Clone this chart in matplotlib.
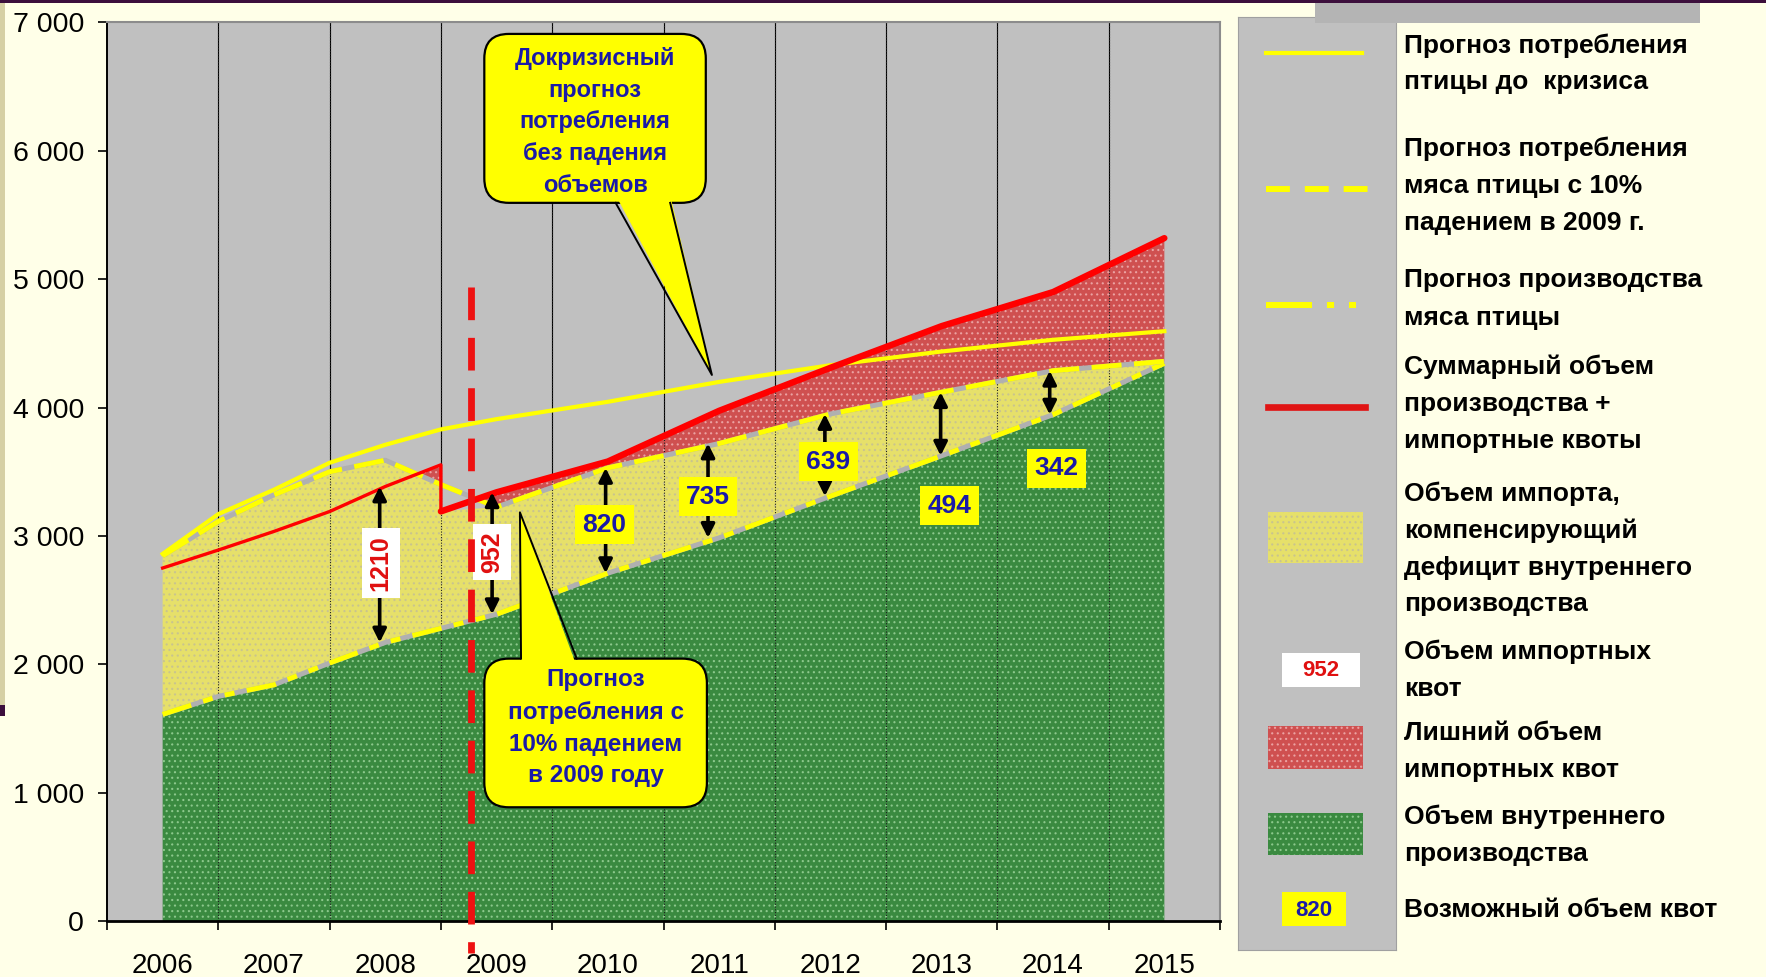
import numpy as np
import matplotlib.pyplot as plt
from matplotlib.patches import FancyBboxPatch, Polygon, Rectangle
from matplotlib.lines import Line2D

plt.rcParams['font.family'] = ['Liberation Sans', 'DejaVu Sans']
plt.rcParams['hatch.linewidth'] = 0.8

# data (thousand tonnes), half-year points where the curves bend
years = list(range(2006, 2016))
x_pts = [2006, 2006.5, 2007, 2007.5, 2008, 2008.5, 2008.5, 2009, 2010, 2011, 2012, 2013, 2014, 2015]
production = [1610, 1750, 1840, 2010, 2170, 2280, 2280, 2390, 2710, 2985, 3310, 3625, 3945, 4345]
consumption_drop = [2845, 3113, 3320, 3500, 3590, 3400, 3400, 3225, 3530, 3720, 3950, 4120, 4287, 4360]
consumption_pre = [2860, 3170, 3360, 3570, 3710, 3830, 3830, 3910, 4045, 4200, 4330, 4437, 4528, 4595]
supply_total = [2750, 2890, 3035, 3190, 3385, 3554, 3191, 3340, 3580, 3975, 4310, 4635, 4900, 5320]

quota_years = [2008, 2009, 2010, 2011, 2012, 2013, 2014]
quota_values = [1210, 952, 820, 735, 639, 494, 342]
quota_actual = [True, True, False, False, False, False, False]   # white/red boxes = real quotas

# label / arrow placement
quota_label_y = [2790, 2877, 3088, 3307, 3579, 3237, 3526]
quota_label_dx = [-0.04, -0.04, -0.03, -0.1, -0.02, 0.07, 0.03]
arrow_dx = [-0.05, -0.04, -0.02, -0.1, -0.05, -0.01, -0.03]
crisis_x = 2008.77

x = np.array(x_pts)
prod = np.array(production)
drop = np.array(consumption_drop)
pre = np.array(consumption_pre)
tot = np.array(supply_total)

YEL = '#FFFF00'
GRAY = '#C0C0C0'
BLUE = '#1A1AA8'

fig = plt.figure(figsize=(17.66, 9.77), dpi=100, facecolor='#FFFFE8')
W, H = 1766, 977

# page decorations
fig.add_artist(Rectangle((0, 1 - 3 / H), 1, 3 / H, transform=fig.transFigure, color='#3C0F3C', lw=0))
fig.add_artist(Rectangle((1315 / W, 1 - 23 / H), 385 / W, 20 / H, transform=fig.transFigure, color='#B4B4B4', lw=0))
fig.add_artist(Rectangle((0, 1 - 705 / H), 5 / W, 702 / H, transform=fig.transFigure, color='#D6D0A4', lw=0))
fig.add_artist(Rectangle((0, 1 - 716 / H), 5 / W, 11 / H, transform=fig.transFigure, color='#3C0F3C', lw=0))

ax = fig.add_axes([107 / W, 1 - 921 / H, 1113 / W, 898.5 / H])
ax.set_facecolor(GRAY)
ax.set_xlim(2005.5, 2015.5)
ax.set_ylim(0, 7000)

# fills
ax.fill_between(x, 0, prod, facecolor='#3A8A40', edgecolor='#8CC88C', hatch='...', lw=0, zorder=1)
after_drop = np.arange(len(x)) > 5
yel_top = np.where(after_drop, np.minimum(drop, tot), drop)
ax.fill_between(x, prod, yel_top, facecolor='#E6E06A', edgecolor='#C9C48E', hatch='...', lw=0, zorder=1)
ax.fill_between(x, drop, tot, where=tot > drop, interpolate=True,
                facecolor='#CF5050', edgecolor='#EBA2A2', hatch='...', lw=0, zorder=1)

# category grid lines: solid on gray, dotted over fills
for b in np.arange(2006.5, 2015, 1.0):
    ax.axvline(b, color='black', lw=0.8, zorder=0.5)
    ax.axvline(b, color='#1E1E1E', lw=0.8, ls=(0, (1, 1.5)), zorder=2)

# lines
ax.plot(x, prod, color='#B0B0B0', lw=3.6, zorder=3, solid_capstyle='butt')
ax.plot(x, prod, color=YEL, lw=3.6, ls=(0, (6, 2.5, 2, 2.5, 2, 2.5)), zorder=3.1)
ax.plot(x, drop, color='#B0B0B0', lw=3.6, zorder=3.2, solid_capstyle='butt')
ax.plot(x, drop, color=YEL, lw=3.6, ls=(0, (6, 2.5)), zorder=3.3)
ax.plot(x, pre, color=YEL, lw=3, zorder=3.4)
ax.plot(x[:7], tot[:7], color='#FF0000', lw=2.4, zorder=3.5)
ax.plot(x[6:], tot[6:], color='#FF0000', lw=4.6, zorder=3.5, solid_capstyle='round')

# quota arrows and labels
for i, (yr, val) in enumerate(zip(quota_years, quota_values)):
    k = x_pts.index(yr) if yr != 2009 else 7
    top = tot[k] if quota_actual[i] else drop[k]
    ax.annotate('', xy=(yr + arrow_dx[i], top), xytext=(yr + arrow_dx[i], prod[k]),
                arrowprops=dict(arrowstyle='<|-|>', color='black', lw=2.6,
                                mutation_scale=20, shrinkA=0, shrinkB=0), zorder=4)
    if quota_actual[i]:
        ax.text(yr + quota_label_dx[i], quota_label_y[i], str(val), rotation=90,
                ha='center', va='center', color='#E01010', fontsize=18, fontweight='bold', zorder=5,
                bbox=dict(boxstyle='square,pad=0.28', fc='white', ec='none'))
    else:
        ax.text(yr + quota_label_dx[i], quota_label_y[i], str(val),
                ha='center', va='center', color=BLUE, fontsize=19, fontweight='bold', zorder=5,
                bbox=dict(boxstyle='square,pad=0.28', fc=YEL, ec='none'))

# crisis marker
ax.plot([crisis_x, crisis_x], [4940, -250], color='#EE1111', lw=4.9,
        ls=(0, (4.8, 2.6)), zorder=6, clip_on=False)


def callout(x0, x1, y0, y1, bx0, bx1, tip, base_y, lines, cy, fs):
    box = FancyBboxPatch((x0, y0), x1 - x0, y1 - y0,
                         boxstyle='round,pad=0,rounding_size=0.22', mutation_aspect=867,
                         fc=YEL, ec='black', lw=1.6, zorder=7)
    ax.add_patch(box)
    inside = 60 if base_y == y0 else -60
    ax.add_patch(Polygon([(bx0, base_y + inside), tip, (bx1, base_y + inside)],
                         closed=True, fc=YEL, ec='none', zorder=7.1))
    ax.plot([bx0, tip[0], bx1], [base_y, tip[1], base_y], color='black', lw=1.4, zorder=7.2)
    for ln, yy in zip(lines, cy):
        ax.text((x0 + x1) / 2, yy, ln, ha='center', va='center', color=BLUE,
                fontsize=fs, fontweight='bold', zorder=8)


callout(2008.89, 2010.88, 5595, 6911, 2010.07, 2010.56, (2010.935, 4254), 5595,
        ['Докризисный', 'прогноз', 'потребления', 'без падения', 'объемов'],
        [6719, 6473, 6228, 5982, 5728], 17)
callout(2008.89, 2010.89, 886, 2044, 2009.22, 2009.72, (2009.21, 3184), 2044,
        ['Прогноз', 'потребления с', '10% падением', 'в 2009 году'],
        [1880, 1623, 1373, 1132], 17.5)

# axes styling
ax.set_xticks(np.arange(2005.5, 2016, 1.0))
ax.set_xticklabels([])
ax.set_xticks(years, minor=True)
ax.set_xticklabels([str(y) for y in years], minor=True, fontsize=20)
ax.tick_params(axis='x', which='major', length=6.5, width=1.2, direction='out')
ax.tick_params(axis='x', which='minor', length=0, pad=23)
ax.set_yticks(range(0, 7001, 1000))
ax.set_yticklabels([f'{v:,}'.replace(',', ' ') for v in range(0, 7001, 1000)], fontsize=20.5)
ax.tick_params(axis='y', length=6.5, width=1.2, direction='out', pad=10)
ax.spines['left'].set_linewidth(1.4)
ax.spines['bottom'].set_linewidth(2)
for s in ('top', 'right'):
    ax.spines[s].set_color('#8C8C8C')
    ax.spines[s].set_linewidth(1.5)

# legend panel
lg = fig.add_axes([1237.5 / W, 1 - 950 / H, 158.5 / W, 933 / H])
lg.set_xlim(1237.5, 1396)
lg.set_ylim(950, 17)
lg.set_facecolor(GRAY)
lg.set_xticks([])
lg.set_yticks([])
for s in lg.spines.values():
    s.set_color('#A0A0A0')

lg.add_line(Line2D([1266, 1362], [53, 53], color=YEL, lw=3))
lg.add_line(Line2D([1266, 1368], [189, 189], color=YEL, lw=4.3, ls=(0, (4, 2.5))))
lg.add_line(Line2D([1266, 1356], [305, 305], color=YEL, lw=4.3, ls=(0, (7.7, 2.5, 1.2, 2.5, 1.2, 10))))
lg.add_line(Line2D([1268, 1365], [407, 407], color='#E01414', lw=4.8))
lg.add_patch(Rectangle((1268, 512), 95, 51, facecolor='#E6E06A', edgecolor='#C9C48E', hatch='...', lw=0))
lg.add_patch(Rectangle((1282, 653), 78, 34, facecolor='white', lw=0))
lg.text(1321, 671, '952', ha='center', va='center', color='#E01010', fontsize=16, fontweight='bold')
lg.add_patch(Rectangle((1268, 726), 95, 43, facecolor='#CF5050', edgecolor='#EBA2A2', hatch='...', lw=0))
lg.add_patch(Rectangle((1268, 813), 95, 42, facecolor='#3A8A40', edgecolor='#8CC88C', hatch='...', lw=0))
lg.add_patch(Rectangle((1282, 892), 64, 34, facecolor=YEL, lw=0))
lg.text(1314, 910, '820', ha='center', va='center', color=BLUE, fontsize=16, fontweight='bold')

legend_entries = [
    (['Прогноз потребления', 'птицы до  кризиса'], 64),
    (['Прогноз потребления', 'мяса птицы с 10%', 'падением в 2009 г.'], 186),
    (['Прогноз производства', 'мяса птицы'], 299),
    (['Суммарный объем', 'производства +', 'импортные квоты'], 404),
    (['Объем импорта,', 'компенсирующий', 'дефицит внутреннего', 'производства'], 549),
    (['Объем импортных', 'квот'], 670),
    (['Лишний объем', 'импортных квот'], 752),
    (['Объем внутреннего', 'производства'], 835),
    (['Возможный объем квот'], 910),
]
for lines, cy in legend_entries:
    n = len(lines)
    for j, ln in enumerate(lines):
        lg.text(1404, cy + (j - (n - 1) / 2) * 37, ln, ha='left', va='center',
                fontsize=19, fontweight='bold', color='black', clip_on=False)

fig.savefig('out.png', dpi=100, facecolor=fig.get_facecolor())
